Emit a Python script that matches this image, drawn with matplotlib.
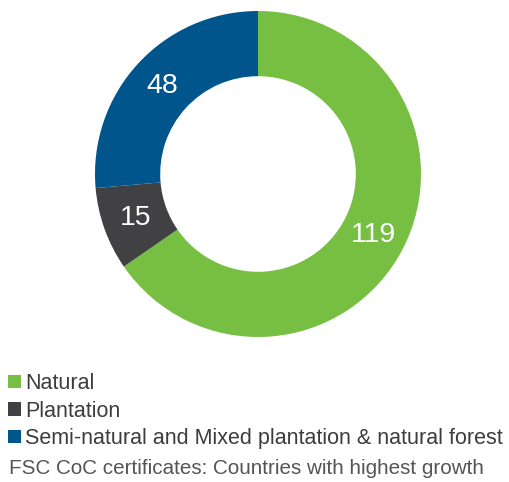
import matplotlib
matplotlib.use("Agg")
import matplotlib.pyplot as plt
from matplotlib.patches import Patch

plt.rcParams['font.family'] = ['Liberation Sans', 'DejaVu Sans']

# data
labels = ['Natural', 'Plantation', 'Semi-natural and Mixed plantation & natural forest']
values = [119, 15, 48]
colors = ['#76bf43', '#414042', '#00558c']
caption = 'FSC CoC certificates: Countries with highest growth'

fig = plt.figure(figsize=(5.09, 4.82), dpi=100)
ax = fig.add_axes([95 / 509, 145 / 482, 326 / 509, 326 / 482])

wedges, texts = ax.pie(values, colors=colors, startangle=90, counterclock=False,
                       radius=1, wedgeprops=dict(width=0.4, edgecolor='none'),
                       labels=[str(v) for v in values], labeldistance=0.8,
                       textprops=dict(color='white', fontsize=20.5, ha='center', va='center'))
ax.set_xlim(-1, 1)
ax.set_ylim(-1, 1)
ax.set_aspect('equal')
ax.axis('off')

handles = [Patch(facecolor=c, edgecolor='none') for c in colors]
fig.legend(handles, labels, loc='upper left', bbox_to_anchor=(0.016, 0.226),
           frameon=False, fontsize=15.5, handlelength=0.6, handleheight=0.6,
           handletextpad=0.2, labelspacing=0.3, borderpad=0, borderaxespad=0,
           labelcolor='#3d3d3d')

fig.text(9 / 509, 1 - 468 / 482, caption, fontsize=14.9, color='#555555',
         ha='left', va='center')

fig.savefig('out.png', dpi=100)
